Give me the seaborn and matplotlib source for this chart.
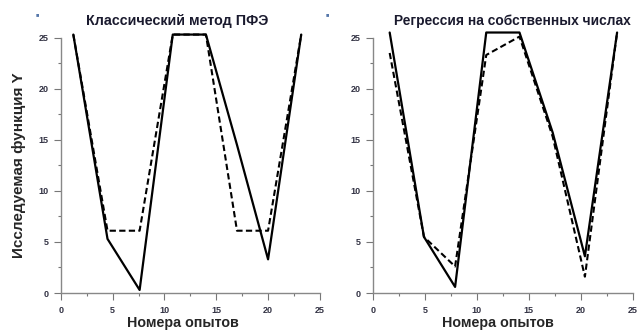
import numpy as np
import pandas as pd
import matplotlib
matplotlib.use("Agg")
import matplotlib.pyplot as plt
import seaborn as sns
from matplotlib.ticker import MultipleLocator

# Данные
x_left = [1.2, 4.5, 7.6, 10.8, 14.0, 17.0, 20.0, 23.2]
y_left_solid = [25.3, 5.3, 0.3, 25.3, 25.3, 14.5, 3.3, 25.3]
y_left_dash = [25.3, 6.1, 6.1, 25.3, 25.3, 6.1, 6.1, 25.3]

x_right = [1.6, 4.9, 7.9, 10.9, 14.1, 17.3, 20.4, 23.5]
y_right_solid = [25.5, 5.5, 0.6, 25.5, 25.5, 15.7, 3.6, 25.5]
y_right_dash = [23.5, 5.5, 2.6, 23.3, 25.1, 15.3, 1.6, 25.5]

titles = ["Классический метод ПФЭ", "Регрессия на собственных числах"]

sns.set_style("white")
plt.rcParams['font.family'] = ['Liberation Sans', 'DejaVu Sans']

fig = plt.figure(figsize=(6.41, 3.30), dpi=100)
ax1 = fig.add_axes([0.095, 0.112, 0.404, 0.774])
ax2 = fig.add_axes([0.582, 0.112, 0.405, 0.774])

panels = [(ax1, x_left, y_left_solid, y_left_dash),
          (ax2, x_right, y_right_solid, y_right_dash)]

for ax, xs, ys, yd in panels:
    df = pd.DataFrame({"x": xs, "solid": ys, "dash": yd})
    sns.lineplot(data=df, x="x", y="solid", ax=ax, color="black", lw=1.6, sort=False,
                 estimator=None, clip_on=False)
    sns.lineplot(data=df, x="x", y="dash", ax=ax, color="black", lw=1.5, sort=False,
                 estimator=None, linestyle=(0, (3, 1.6)), clip_on=False)
    ax.set_xlim(0, 25)
    ax.set_ylim(0, 25)
    ax.xaxis.set_major_locator(MultipleLocator(5))
    ax.xaxis.set_minor_locator(MultipleLocator(2.5))
    ax.yaxis.set_major_locator(MultipleLocator(5))
    ax.yaxis.set_minor_locator(MultipleLocator(2.5))
    ax.tick_params(which="both", bottom=True, left=True, direction="out",
                   color="#777777", width=0.8, labelsize=6.5, labelcolor="#333344")
    ax.tick_params(which="major", length=5, pad=4)
    ax.tick_params(which="minor", length=2.5)
    for lab in ax.get_xticklabels() + ax.get_yticklabels():
        lab.set_fontweight("bold")
    for s in ["top", "right"]:
        ax.spines[s].set_visible(False)
    for s in ["left", "bottom"]:
        ax.spines[s].set_color("#888888")
        ax.spines[s].set_linewidth(1.0)
    ax.set_xlabel("Номера опытов", fontsize=10.3, fontweight="bold", va="center")
    ax.set_ylabel("")

ax1.xaxis.set_label_coords(0.471, -0.118)
ax2.xaxis.set_label_coords(0.48, -0.118)
ax1.set_ylabel("Исследуемая функция Y", fontsize=11, fontweight="bold", va="center")
ax1.yaxis.set_label_coords(-0.163, 0.5)

fig.text(0.276, 0.935, titles[0], fontsize=10.3, fontweight="bold", color="#1a1a2e",
         ha="center", va="center")
fig.text(0.614, 0.935, titles[1], fontsize=9.9, fontweight="bold", color="#1a1a2e",
         ha="left", va="center")
fig.text(0.058, 0.955, "■", fontsize=4, color="#5577aa", ha="center", va="center")
fig.text(0.511, 0.955, "■", fontsize=4, color="#5577aa", ha="center", va="center")

fig.savefig("out.png", dpi=100)
